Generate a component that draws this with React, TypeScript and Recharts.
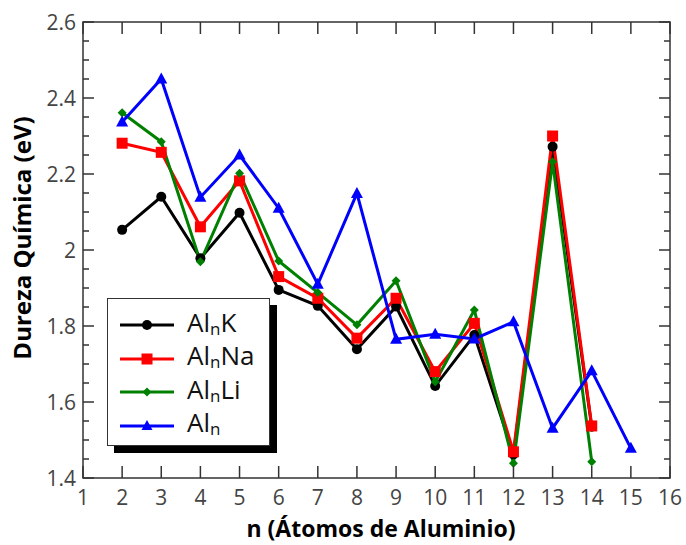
import React from 'react';
import { LineChart, Line, XAxis, YAxis, ReferenceArea } from 'recharts';

// n (number of Al atoms)
const nAtoms = [2, 3, 4, 5, 6, 7, 8, 9, 10, 11, 12, 13, 14, 15];

// chemical hardness (eV)
const alnK = [2.053, 2.14, 1.978, 2.098, 1.895, 1.853, 1.739, 1.851, 1.642, 1.776, 1.462, 2.272, 1.535, null];
const alnNa = [2.281, 2.257, 2.061, 2.182, 1.93, 1.873, 1.768, 1.873, 1.68, 1.807, 1.469, 2.3, 1.537, null];
const alnLi = [2.361, 2.285, 1.969, 2.202, 1.971, 1.888, 1.803, 1.919, 1.653, 1.842, 1.439, 2.232, 1.443, null];
const aln = [2.337, 2.45, 2.139, 2.25, 2.11, 1.91, 2.149, 1.765, 1.778, 1.766, 1.811, 1.531, 1.682, 1.478];

const xTicks = [1, 2, 3, 4, 5, 6, 7, 8, 9, 10, 11, 12, 13, 14, 15, 16];
const yTicks = [1.4, 1.45, 1.5, 1.55, 1.6, 1.65, 1.7, 1.75, 1.8, 1.85, 1.9, 1.95, 2, 2.05, 2.1, 2.15, 2.2, 2.25, 2.3, 2.35, 2.4, 2.45, 2.5, 2.55, 2.6];
const yMajor = [1.4, 1.6, 1.8, 2, 2.2, 2.4, 2.6];

const data = nAtoms.map((n, i) => ({ n, k: alnK[i], na: alnNa[i], li: alnLi[i], al: aln[i] }));

const W = 686;
const H = 545;
const PLOT_LEFT = 83;
const PLOT_RIGHT = 670;
const PLOT_TOP = 22;
const PLOT_BOTTOM = 478;
const FONT = '"Open Sans", "Noto Sans", sans-serif';
const AXIS = '#333';

function YTick({ y, payload }: any) {
  const v = payload.value;
  const major = yMajor.some((m) => Math.abs(m - v) < 1e-6);
  const len = major ? 11 : 6;
  return (
    <g>
      <line x1={PLOT_LEFT} x2={PLOT_LEFT + len} y1={y} y2={y} stroke={AXIS} strokeWidth={1.5} />
      <line x1={PLOT_RIGHT} x2={PLOT_RIGHT - len} y1={y} y2={y} stroke={AXIS} strokeWidth={1.5} />
      {major && (
        <text x={PLOT_LEFT - 7} y={y} textAnchor="end" dominantBaseline="central"
          fontFamily={FONT} fontSize={21} fontWeight={500} fill="#444">
          {String(v)}
        </text>
      )}
    </g>
  );
}

function XTick({ x, payload }: any) {
  return (
    <g>
      <line x1={x} x2={x} y1={PLOT_BOTTOM} y2={PLOT_BOTTOM - 12} stroke={AXIS} strokeWidth={1.5} />
      <line x1={x} x2={x} y1={PLOT_TOP} y2={PLOT_TOP + 12} stroke={AXIS} strokeWidth={1.5} />
      <text x={x} y={PLOT_BOTTOM + 19} textAnchor="middle" dominantBaseline="central"
        fontFamily={FONT} fontSize={21} fontWeight={500} fill="#444">
        {payload.value}
      </text>
    </g>
  );
}

// marker shapes
const circleDot = (p: any) =>
  p.cy == null ? <g key={`c${p.index}`} /> : <circle key={`c${p.index}`} cx={p.cx} cy={p.cy} r={5} fill="#000" />;
const squareDot = (p: any) =>
  p.cy == null ? <g key={`s${p.index}`} /> : <rect key={`s${p.index}`} x={p.cx - 5.5} y={p.cy - 5.5} width={11} height={11} fill="#ff0000" />;
const diamondDot = (p: any) =>
  p.cy == null ? <g key={`d${p.index}`} /> : (
    <polygon key={`d${p.index}`} fill="#008000"
      points={`${p.cx},${p.cy - 4.5} ${p.cx + 4.5},${p.cy} ${p.cx},${p.cy + 4.5} ${p.cx - 4.5},${p.cy}`} />
  );
const triangleDot = (p: any) =>
  p.cy == null ? <g key={`t${p.index}`} /> : (
    <polygon key={`t${p.index}`} fill="#0000ff"
      points={`${p.cx},${p.cy - 6.5} ${p.cx + 6},${p.cy + 4.5} ${p.cx - 6},${p.cy + 4.5}`} />
  );

const legendItems = [
  { suffix: 'K', color: '#000', shape: 'circle' },
  { suffix: 'Na', color: '#ff0000', shape: 'square' },
  { suffix: 'Li', color: '#008000', shape: 'diamond' },
  { suffix: '', color: '#0000ff', shape: 'triangle' },
];

function LegendIcon({ color, shape }: { color: string; shape: string }) {
  const cx = 27;
  const cy = 8;
  let marker: React.ReactNode = null;
  if (shape === 'circle') marker = <circle cx={cx} cy={cy} r={5} fill={color} />;
  if (shape === 'square') marker = <rect x={cx - 5.5} y={cy - 5.5} width={11} height={11} fill={color} />;
  if (shape === 'diamond')
    marker = <polygon fill={color} points={`${cx},${cy - 4.5} ${cx + 4.5},${cy} ${cx},${cy + 4.5} ${cx - 4.5},${cy}`} />;
  if (shape === 'triangle')
    marker = <polygon fill={color} points={`${cx},${cy - 6} ${cx + 5.5},${cy + 4} ${cx - 5.5},${cy + 4}`} />;
  return (
    <svg width={54} height={16} style={{ display: 'block' }}>
      <line x1={0} x2={54} y1={cy} y2={cy} stroke={color} strokeWidth={3} />
      {marker}
    </svg>
  );
}

export default function App() {
  return (
    <div style={{ position: 'absolute', left: 0, top: 0, width: W, height: H, background: '#fff' }}>
      <LineChart width={W} height={H} data={data}
        margin={{ top: PLOT_TOP, right: W - PLOT_RIGHT, bottom: H - PLOT_BOTTOM - 30, left: PLOT_LEFT - 60 }}>
        <XAxis dataKey="n" type="number" domain={[1, 16]} ticks={xTicks} interval={0}
          axisLine={false} tickLine={false} tick={<XTick />} height={30}
          label={() => (
            <text x={381} y={528} textAnchor="middle" dominantBaseline="central"
              fontFamily={FONT} fontSize={23} fontWeight={700} fill="#000">
              n (Átomos de Aluminio)
            </text>
          )} />
        <YAxis type="number" domain={[1.4, 2.6]} ticks={yTicks} interval={0} width={60}
          axisLine={false} tickLine={false} tick={<YTick />}
          label={() => (
            <text x={21} y={238} textAnchor="middle" dominantBaseline="central" transform="rotate(-90 21 238)"
              fontFamily={FONT} fontSize={24} fontWeight={700} fill="#000">
              Dureza Química (eV)
            </text>
          )} />
        <ReferenceArea x1={1} x2={16} y1={1.4} y2={2.6} fill="none" stroke={AXIS} strokeWidth={1.5} ifOverflow="visible" />
        <Line type="linear" dataKey="k" stroke="#000" strokeWidth={3} dot={circleDot} activeDot={false} isAnimationActive={false} />
        <Line type="linear" dataKey="na" stroke="#ff0000" strokeWidth={3} dot={squareDot} activeDot={false} isAnimationActive={false} />
        <Line type="linear" dataKey="li" stroke="#008000" strokeWidth={3} dot={diamondDot} activeDot={false} isAnimationActive={false} />
        <Line type="linear" dataKey="al" stroke="#0000ff" strokeWidth={3} dot={triangleDot} activeDot={false} isAnimationActive={false} />
      </LineChart>

      {/* legend box with drop shadow */}
      <div style={{
        position: 'absolute', left: 107, top: 298, width: 161, height: 146,
        border: `1.5px solid ${AXIS}`, background: '#fff', boxShadow: '7px 7px 0 #000',
        fontFamily: FONT, fontSize: 26, color: '#111',
      }}>
        {legendItems.map((it, i) => (
          <div key={i} style={{ position: 'absolute', left: 12, top: 11 + i * 33.5, height: 30, display: 'flex', alignItems: 'center' }}>
            <LegendIcon color={it.color} shape={it.shape} />
            <span style={{ marginLeft: 13, lineHeight: '30px', whiteSpace: 'nowrap' }}>
              Al<sub style={{ fontSize: 17, verticalAlign: '-3px' }}>n</sub>{it.suffix}
            </span>
          </div>
        ))}
      </div>
    </div>
  );
}
